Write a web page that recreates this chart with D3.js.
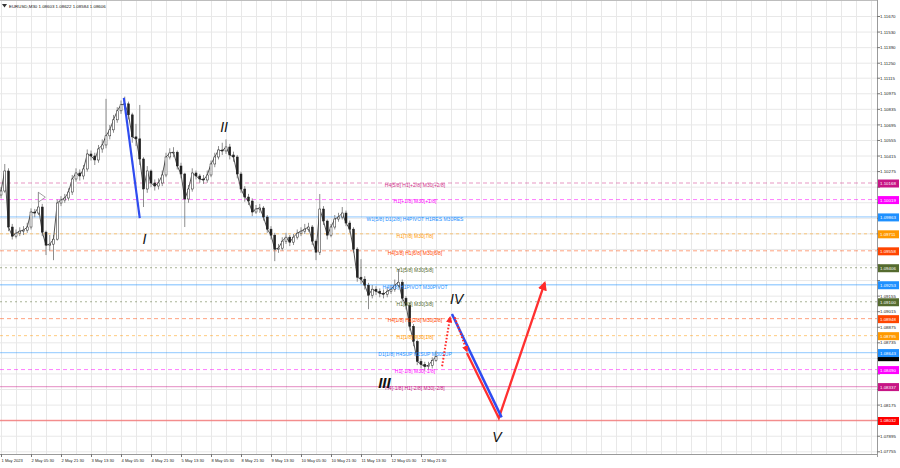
<!DOCTYPE html>
<html><head><meta charset="utf-8">
<script src="https://cdn.jsdelivr.net/npm/d3@7"></script>
<style>body{margin:0;background:#fff}svg{display:block}</style>
</head><body><svg id="c" width="900" height="468"></svg>
<script>
// ---------------- data ----------------
const chartTitle = "EURUSD,M30  1.08603 1.08622 1.08584 1.08606";
const timeLabels = ["1 May 2023","2 May 05:30","2 May 21:30","3 May 13:30","4 May 05:30","4 May 21:30","5 May 13:30","8 May 05:30","8 May 21:30","9 May 13:30","10 May 05:30","10 May 21:30","11 May 13:30","12 May 05:30","12 May 21:30"];
const priceTickLabels = ["1.11670","1.11530","1.11390","1.11250","1.11115","1.10975","1.10835","1.10695","1.10555","1.10415","1.10275","1.10135","1.09995","1.09855","1.09715","1.09575","1.09435","1.09295","1.09155","1.09015","1.08875","1.08735","1.08595","1.08455","1.08315","1.08175","1.08035","1.07895","1.07755"];
// 2-hour candles (4 x M30 bars each)
const firstOpen = 1.10060;
const closes = [
1.10096,1.10276,1.09772,1.09690,1.09717,1.09735,1.09744,1.09772,1.09907,1.09898,
1.09952,1.09726,1.09609,1.09618,1.09663,1.09988,1.10015,1.10033,1.10087,1.10204,
1.10258,1.10231,1.10294,1.10429,1.10411,1.10375,1.10474,1.10510,1.10592,1.10646,
1.10736,1.10817,1.10871,1.10880,1.10781,1.10583,1.10565,1.10384,1.10114,1.10276,
1.10168,1.10141,1.10168,1.10240,1.10402,1.10438,1.10445,1.10321,1.10249,1.10024,
1.10114,1.10258,1.10231,1.10204,1.10195,1.10240,1.10339,1.10402,1.10465,1.10456,
1.10492,1.10420,1.10402,1.10249,1.10114,1.10042,1.10006,1.09907,1.09934,1.09943,
1.09862,1.09753,1.09699,1.09573,1.09582,1.09645,1.09681,1.09636,1.09681,1.09717,
1.09735,1.09753,1.09772,1.09645,1.09546,1.09934,1.09826,1.09699,1.09772,1.09844,
1.09862,1.09898,1.09808,1.09753,1.09573,1.09321,1.09303,1.09249,1.09159,1.09213,
1.09195,1.09177,1.09168,1.09195,1.09213,1.09249,1.09276,1.09132,1.09069,1.08879,
1.08744,1.08564,1.08537,1.08519,1.08528,1.08573,1.08606];
const highs = [
1.10130,1.10339,1.10300,1.09800,1.09750,1.09770,1.09780,1.09810,1.09940,1.09935,
1.10087,1.09980,1.09740,1.09700,1.09700,1.10020,1.10050,1.10070,1.10120,1.10240,
1.10300,1.10290,1.10330,1.10470,1.10460,1.10440,1.10510,1.10560,1.10925,1.10690,
1.10780,1.10850,1.10910,1.10945,1.10900,1.10800,1.10700,1.10870,1.10400,1.10320,
1.10290,1.10200,1.10210,1.10280,1.10440,1.10480,1.10490,1.10460,1.10350,1.10260,
1.10150,1.10300,1.10280,1.10250,1.10240,1.10280,1.10370,1.10440,1.10500,1.10530,
1.10560,1.10520,1.10450,1.10420,1.10270,1.10140,1.10070,1.10030,1.09970,1.09980,
1.09960,1.09880,1.09780,1.09720,1.09620,1.09680,1.09720,1.09700,1.09710,1.09750,
1.09770,1.09800,1.09810,1.09790,1.09660,1.10069,1.09960,1.09840,1.09800,1.09880,
1.09900,1.09952,1.09920,1.09830,1.09770,1.09590,1.09483,1.09330,1.09270,1.09250,
1.09240,1.09220,1.09210,1.09230,1.09250,1.09300,1.09393,1.09300,1.09150,1.09090,
1.08900,1.08760,1.08590,1.08560,1.08560,1.08600,1.08660];
const lows = [
1.10030,1.10080,1.09735,1.09660,1.09670,1.09690,1.09700,1.09720,1.09750,1.09860,
1.09880,1.09690,1.09520,1.09560,1.09474,1.09650,1.09960,1.09990,1.10010,1.10060,
1.10180,1.10190,1.10200,1.10270,1.10370,1.10330,1.10350,1.10440,1.10480,1.10560,
1.10620,1.10710,1.10790,1.10830,1.10740,1.10530,1.10500,1.10330,1.09952,1.10080,
1.10130,1.10100,1.10110,1.10140,1.10220,1.10380,1.10400,1.10290,1.10210,1.09772,
1.09990,1.10090,1.10200,1.10170,1.10160,1.10170,1.10220,1.10310,1.10380,1.10420,
1.10430,1.10380,1.10360,1.10210,1.10080,1.10000,1.09970,1.09870,1.09890,1.09900,
1.09830,1.09720,1.09660,1.09465,1.09540,1.09560,1.09620,1.09600,1.09610,1.09660,
1.09690,1.09710,1.09730,1.09610,1.09474,1.09520,1.09790,1.09660,1.09680,1.09750,
1.09820,1.09840,1.09780,1.09720,1.09540,1.09280,1.09260,1.09210,1.09033,1.09130,
1.09160,1.09140,1.09130,1.09140,1.09170,1.09190,1.09230,1.09100,1.09030,1.08840,
1.08700,1.08530,1.08500,1.08480,1.08490,1.08500,1.08560];
const currentPrice = 1.08606;
// Murrey-math levels
const levelPrices = [1.10168,1.10019,1.09863,1.09711,1.09558,1.09406,1.09253,1.09100,1.08948,1.08795,1.08643,1.08490,1.08337,1.08032];
const levelNames = ["H4[5/8] H1[+2/8] M30[+2/8]","H1[+1/8] M30[+1/8]","W1[5/8] D1[2/8] H4PIVOT H1RES M30RES","H1[7/8] M30[7/8]","H4[3/8] H1[6/8] M30[6/8]","H1[5/8] M30[5/8]","H4[2/8] H1PIVOT M30PIVOT","H1[3/8] M30[3/8]","H4[1/8] H1[2/8] M30[2/8]","H1[1/8] M30[1/8]","D1[1/8] H4SUP H1SUP M30SUP","H1[-1/8] M30[-1/8]","H4[-1/8] H1[-2/8] M30[-2/8]",""];
// Elliott wave marks (M30 bar index, price)
const waveNames = ["I","II","III","IV","V"];
const waveBars = [153, 238, 409, 486, 529];
const wavePrices = [1.09650, 1.10660, 1.08360, 1.09110, 1.07870];
const waveIBar = [131, 148];
const waveIPrice = [1.10934, 1.09853];
const dotUpBar = [470.5, 479], dotUpPrice = [1.08520, 1.08960];
const dotDownBar = [484, 497], dotDownPrice = [1.08960, 1.08655];
const blueProjBar = [481, 534], blueProjPrice = [1.08990, 1.08060];
const redProjBar = [497, 531, 580], redProjPrice = [1.08640, 1.08055, 1.09270];
const markerBar = 43, markerPrice = 1.10040;

// ---------------- styles ----------------
const levelColor = ["#d0308a","#ff00ff","#1e90ff","#ff9900","#ff4500","#556b2f","#1e90ff","#556b2f","#ff4500","#ff9900","#1e90ff","#ff00ff","#c71585","#ff0000"];
const boxColor   = ["#c71585","#ff00ff","#1e90ff","#ff9900","#ff4500","#556b2f","#1e90ff","#556b2f","#ff4500","#ff9900","#1e90ff","#ff00ff","#c71585","#ff0000"];
const levelDash  = ["4,3","4,3",null,"3,3","4,3","2,3",null,"2,3","4,3","3,3",null,"4,3",null,null];

const W = 900, H = 468, plotR = 877, plotB = 454;
const svg = d3.select("#c");
svg.append("rect").attr("width",W).attr("height",H).attr("fill","#fff");

const x = d3.scaleLinear().domain([0, 934]).range([1, 1 + 934 * 0.9375]);
const y = d3.scaleLinear().domain([1.10168, 1.08032]).range([183, 420.5]);
const font = "Liberation Sans, Arial, sans-serif";
const small = 4.4;

const g = svg.append("g");
// grid
const vBars = d3.range(0, 935, 16);
g.selectAll("line.vg").data(vBars).enter().append("line")
  .attr("x1", d => x(d) + 0.5).attr("x2", d => x(d) + 0.5)
  .attr("y1", 0).attr("y2", plotB).attr("stroke", "#e8e8e8").attr("stroke-width", 1);
g.selectAll("line.hg").data(priceTickLabels).enter().append("line")
  .attr("x1", 0).attr("x2", plotR).attr("y1", d => y(+d) + 0.5).attr("y2", d => y(+d) + 0.5)
  .attr("stroke", "#e8e8e8").attr("stroke-width", 1);

// level lines
levelPrices.forEach((p, i) => {
  g.append("line").attr("x1", 0).attr("x2", plotR).attr("y1", y(p)).attr("y2", y(p))
    .attr("stroke", levelColor[i]).attr("stroke-opacity", levelDash[i] ? 0.5 : 0.4)
    .attr("stroke-width", levelDash[i] ? 1 : 1.3)
    .attr("stroke-dasharray", levelDash[i]);
});

// candles
const candles = closes.map((c, k) => ({bar: 4 * k, o: k ? closes[k - 1] : firstOpen, c, h: highs[k], l: lows[k]}));
const cg = g.append("g");
cg.selectAll("line.w").data(candles).enter().append("line")
  .attr("x1", d => x(d.bar)).attr("x2", d => x(d.bar))
  .attr("y1", d => y(d.h)).attr("y2", d => y(d.l))
  .attr("stroke", "#808080").attr("stroke-width", 0.9);
cg.append("path").datum(candles)
  .attr("d", d3.line().x(d => x(d.bar)).y(d => y(d.c)))
  .attr("fill", "none").attr("stroke", "#555").attr("stroke-width", 1);
cg.selectAll("rect.b").data(candles).enter().append("rect")
  .attr("x", d => x(d.bar) - 1).attr("width", 2)
  .attr("y", d => y(Math.max(d.o, d.c))).attr("height", d => Math.max(0.8, Math.abs(y(d.o) - y(d.c))))
  .attr("fill", d => d.c >= d.o ? "#ffffff" : "#222").attr("stroke", "#222").attr("stroke-width", 0.5);

// level labels
levelPrices.forEach((p, i) => {
  if (!levelNames[i]) return;
  g.append("text").attr("x", 415).attr("y", y(p) + 2.5).attr("text-anchor", "middle")
    .attr("dominant-baseline", "middle").attr("font-family", font).attr("font-size", 5)
    .attr("fill", levelColor[i]).text(levelNames[i]);
});

// small arrow object
g.append("path")
  .attr("d", `M${x(markerBar) - 3},${y(markerPrice) - 5} L${x(markerBar) + 4},${y(markerPrice)} L${x(markerBar) - 3},${y(markerPrice) + 5} Z`)
  .attr("fill", "#fff").attr("fill-opacity", 0.6).attr("stroke", "#8a8a8a").attr("stroke-width", 0.8);

// defs: arrowheads
const defs = svg.append("defs");
defs.append("marker").attr("id", "ar").attr("viewBox", "0 0 10 10").attr("refX", 8).attr("refY", 5)
  .attr("markerWidth", 4).attr("markerHeight", 4).attr("orient", "auto")
  .append("path").attr("d", "M0,0 L10,5 L0,10 Z").attr("fill", "#ff2a2a");
defs.append("marker").attr("id", "ar2").attr("viewBox", "0 0 10 10").attr("refX", 8).attr("refY", 5)
  .attr("markerWidth", 3.2).attr("markerHeight", 3.2).attr("orient", "auto")
  .append("path").attr("d", "M0,0 L10,5 L0,10 Z").attr("fill", "#ff2a2a");

const seg = (bars, prices) => bars.map((b, i) => [x(b), y(prices[i])]);
const ln = d3.line();
// wave I line
g.append("path").attr("d", ln(seg(waveIBar, waveIPrice))).attr("stroke", "#2f4cf0").attr("stroke-width", 2.2).attr("fill", "none");
// red projection
g.append("path").attr("d", ln(seg(redProjBar, redProjPrice))).attr("stroke", "#ff3030").attr("stroke-width", 2.3)
  .attr("fill", "none").attr("marker-end", "url(#ar)");
// blue projection
g.append("path").attr("d", ln(seg(blueProjBar, blueProjPrice))).attr("stroke", "#2f4cf0").attr("stroke-width", 2.5).attr("fill", "none");
// dotted red arrows
g.append("path").attr("d", ln(seg(dotUpBar, dotUpPrice))).attr("stroke", "#ff2a2a").attr("stroke-width", 2)
  .attr("stroke-dasharray", "1.6,1.8").attr("fill", "none").attr("marker-end", "url(#ar2)");
g.append("path").attr("d", ln(seg(dotDownBar, dotDownPrice))).attr("stroke", "#ff2a2a").attr("stroke-width", 2)
  .attr("stroke-dasharray", "1.6,1.8").attr("fill", "none").attr("marker-end", "url(#ar2)");

// wave labels
waveNames.forEach((n, i) => {
  g.append("text").attr("x", x(waveBars[i])).attr("y", y(wavePrices[i])).attr("text-anchor", "middle")
    .attr("dominant-baseline", "middle").attr("font-family", font).attr("font-style", "italic")
    .attr("font-size", n === "III" ? 15 : 14).attr("font-weight", n === "III" ? "bold" : "normal")
    .attr("fill", "#111").text(n);
});

// frame
svg.append("line").attr("x1", plotR + 0.5).attr("x2", plotR + 0.5).attr("y1", 0).attr("y2", plotB + 3).attr("stroke", "#9a9a9a");
svg.append("line").attr("x1", 0).attr("x2", plotR).attr("y1", plotB + 0.5).attr("y2", plotB + 0.5).attr("stroke", "#9a9a9a");
svg.append("line").attr("x1", 0).attr("x2", plotR).attr("y1", 0.5).attr("y2", 0.5).attr("stroke", "#bdbdbd");

// right axis (labels hidden under a level box are skipped, as in the terminal)
const boxYs = levelPrices.map(p => y(p)).concat([y(currentPrice)]);
priceTickLabels.forEach(t => {
  const ty = y(+t);
  svg.append("line").attr("x1", plotR).attr("x2", plotR + 3).attr("y1", ty + 0.5).attr("y2", ty + 0.5).attr("stroke", "#777");
  if (boxYs.some(b => Math.abs(b - ty) < 5)) return;
  svg.append("text").attr("x", 880).attr("y", ty + 1).attr("dominant-baseline", "middle")
    .attr("font-family", font).attr("font-size", small).attr("fill", "#222").text(t);
});
// current price box (drawn under the level boxes)
svg.append("rect").attr("x", 878).attr("y", y(currentPrice) - 3.5).attr("width", 21).attr("height", 8).attr("fill", "#000");
levelPrices.forEach((p, i) => {
  svg.append("rect").attr("x", 878).attr("y", y(p) - 3.5).attr("width", 21).attr("height", 8).attr("fill", boxColor[i]);
  svg.append("text").attr("x", 880).attr("y", y(p) + 0.8).attr("dominant-baseline", "middle")
    .attr("font-family", font).attr("font-size", small).attr("fill", "#fff").text(p.toFixed(5));
});

// bottom axis
timeLabels.forEach((t, i) => {
  const xx = x(32 * i);
  svg.append("line").attr("x1", xx + 0.5).attr("x2", xx + 0.5).attr("y1", plotB).attr("y2", plotB + 3).attr("stroke", "#777");
  svg.append("text").attr("x", xx + 0.5).attr("y", 462).attr("font-family", font).attr("font-size", 4.1)
    .attr("fill", "#222").text(t);
});

// title
svg.append("path").attr("d", "M2,4 L7,4 L4.5,7.5 Z").attr("fill", "#333");
svg.append("text").attr("x", 9).attr("y", 8).attr("font-family", font).attr("font-size", small).attr("fill", "#111").text(chartTitle);
</script></body></html>
